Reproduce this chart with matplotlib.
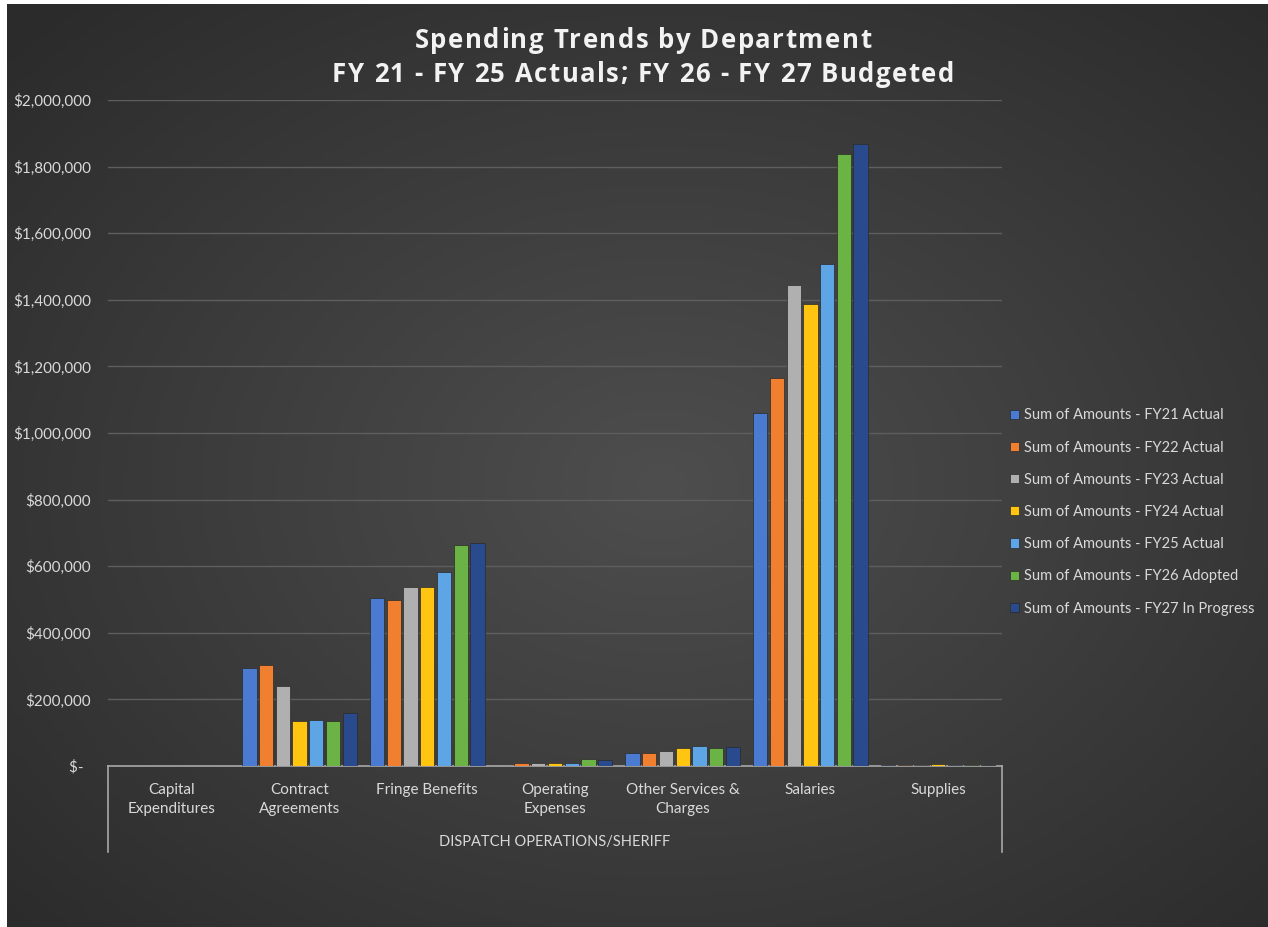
import matplotlib
matplotlib.use("Agg")
import matplotlib.pyplot as plt
import numpy as np
from matplotlib.lines import Line2D

plt.rcParams['font.family'] = ['Lato', 'DejaVu Sans']

categories = ["Capital\nExpenditures", "Contract\nAgreements", "Fringe Benefits",
              "Operating\nExpenses", "Other Services &\nCharges", "Salaries", "Supplies"]
group_label = "DISPATCH OPERATIONS/SHERIFF"
title_lines = ["Spending Trends by Department",
               "FY 21 - FY 25 Actuals; FY 26 - FY 27 Budgeted"]
series_names = ["Sum of Amounts - FY21 Actual", "Sum of Amounts - FY22 Actual",
                "Sum of Amounts - FY23 Actual", "Sum of Amounts - FY24 Actual",
                "Sum of Amounts - FY25 Actual", "Sum of Amounts - FY26 Adopted",
                "Sum of Amounts - FY27 In Progress"]
fy21 = [0, 294000, 504000, 1000, 39000, 1060000, 3000]
fy22 = [0, 303000, 498000, 9000, 40000, 1165000, 4000]
fy23 = [0, 240000, 537000, 9000, 46000, 1444000, 4000]
fy24 = [0, 135000, 537000, 9000, 54000, 1387000, 5000]
fy25 = [0, 138000, 583000, 8000, 60000, 1507000, 4000]
fy26 = [0, 135000, 663000, 21000, 54000, 1838000, 4000]
fy27 = [0, 159000, 670000, 18000, 58000, 1868000, 3000]
series = [fy21, fy22, fy23, fy24, fy25, fy26, fy27]
colors = ["#4a7bd0", "#f07f30", "#b0b0b0", "#ffc510", "#5ea5e6", "#6ab344", "#2a4a8e"]
yticks = [0, 200000, 400000, 600000, 800000, 1000000, 1200000, 1400000,
          1600000, 1800000, 2000000]

W, H = 1268, 927
fig = plt.figure(figsize=(W / 100, H / 100), dpi=100, facecolor="white")

# background with radial gradient
bg = fig.add_axes([7 / W, 0, 1 - 7 / W, 1 - 4 / H])
bg.set_axis_off()
yy, xx = np.mgrid[0:1:300j, 0:1:400j]
r = np.sqrt(((xx - 0.52) / 0.75) ** 2 + ((yy - 0.52) / 0.75) ** 2)
c0 = np.array([0x4e, 0x4e, 0x4e]) / 255
c1 = np.array([0x2b, 0x2b, 0x2b]) / 255
t = np.clip(r / 0.95, 0, 1)[..., None]
img = c0 * (1 - t) + c1 * t
bg.imshow(img, aspect="auto", extent=[0, 1, 0, 1])
bg.set_xlim(0, 1)
bg.set_ylim(0, 1)

left, right = 108 / W, 1002 / W
bottom, top = 1 - 766 / H, 1 - 100 / H
ax = fig.add_axes([left, bottom, right - left, top - bottom])
ax.set_facecolor("none")

x = np.arange(len(categories))
step = 0.131
bw = 0.112
n = len(series)
for i, (vals, col, name) in enumerate(zip(series, colors, series_names)):
    ax.bar(x + (i - (n - 1) / 2) * step, vals, width=bw, color=col,
           edgecolor="#2a2a2a", linewidth=0.5, label=name, zorder=3)

ax.set_xlim(-0.5, len(categories) - 0.5)
ax.set_ylim(0, 2000000)
ax.set_yticks(yticks)
ax.set_yticklabels(["$-  " if v == 0 else "${:,.0f}".format(v) for v in yticks],
                   color="#d9d9d9", fontsize=11)
ax.tick_params(axis="y", length=0, pad=12)
ax.grid(axis="y", color="#5e5e5e", linewidth=1.0, zorder=0)
ax.set_xticks(x)
ax.set_xticklabels(categories, color="#d9d9d9", fontsize=11, linespacing=1.5)
ax.tick_params(axis="x", length=0, pad=12)
for s in ["top", "right", "left"]:
    ax.spines[s].set_visible(False)
ax.spines["bottom"].set_color("#a8a8a8")
ax.spines["bottom"].set_linewidth(1.2)

# multi-level category box
yb = 1 - 852 / H
for xv in (left, right):
    fig.add_artist(Line2D([xv, xv], [bottom, yb], color="#a8a8a8", linewidth=1.2))
fig.text((left + right) / 2, 1 - 842 / H, group_label, color="#d9d9d9",
         fontsize=10.5, ha="center", va="center")

# title with letter tracking
renderer = fig.canvas.get_renderer()
tkw = dict(color="#f2f2f2", fontsize=18.5, fontweight="bold", va="center",
           family=["Open Sans", "DejaVu Sans"])


def measure(s):
    tt = fig.text(0, 0, s, **tkw)
    w = tt.get_window_extent(renderer).width
    tt.remove()
    return w


space_w = measure("x x") - measure("xx")


def tracked(text, xc_px, y_px, track):
    ws = [space_w if ch == " " else measure(ch) for ch in text]
    total = sum(ws) + track * (len(text) - 1)
    xp = xc_px - total / 2
    for ch, w in zip(text, ws):
        if ch != " ":
            fig.text(xp / W, 1 - y_px / H, ch, ha="left", **tkw)
        xp += w + track


tracked(title_lines[0], 643, 40, 1.5)
tracked(title_lines[1], 643, 74, 1.5)

leg = fig.legend(loc="center left", bbox_to_anchor=(1004 / W, 1 - 512 / H),
                 frameon=False, fontsize=10.5, labelcolor="#d9d9d9",
                 handlelength=0.6, handleheight=0.6, handletextpad=0.35,
                 labelspacing=1.25, borderaxespad=0)

fig.savefig("out.png", dpi=100, facecolor=fig.get_facecolor())
